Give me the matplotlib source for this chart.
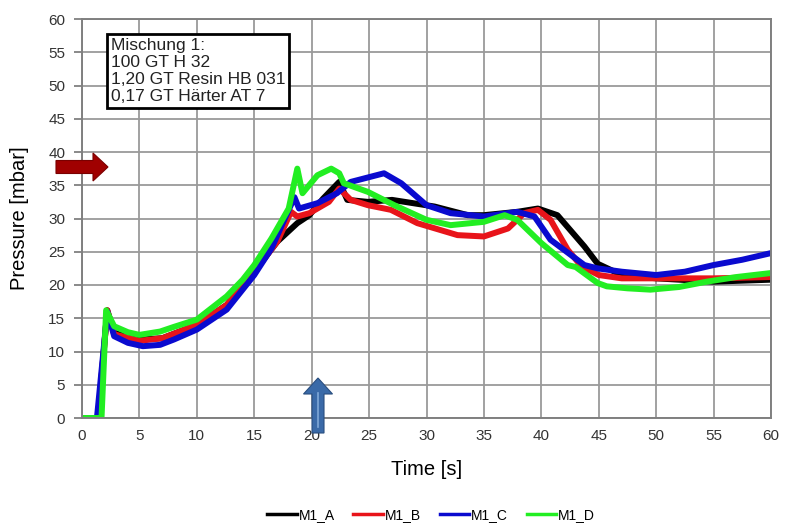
import matplotlib
matplotlib.use("Agg")
import matplotlib.pyplot as plt
from matplotlib.patches import FancyArrow

plt.rcParams['font.family'] = ['Liberation Sans', 'DejaVu Sans']

# data (time [s], pressure [mbar])
t_a = [0, 1.4, 2.2, 2.8, 5, 7, 10, 12.6, 15, 17, 18.75, 19.8, 21, 22.4, 23.1, 24.9, 27,
       30.7, 33.6, 35, 37.9, 39.7, 41.4, 43.75, 44.9, 47, 50, 55, 60]
p_a = [0, 0, 16.2, 12.8, 11.8, 12, 14, 17, 22, 26.5, 29.3, 30.5, 33, 35.5, 32.8, 32.5, 32.8,
       31.8, 30.5, 30.5, 31, 31.5, 30.5, 25.8, 23.2, 21.5, 21, 20.5, 20.8]

t_b = [0, 1.4, 2.2, 2.8, 5, 7, 10, 12.6, 15, 17, 18.2, 18.75, 19.8, 21.5, 22.4, 23.4, 24.9,
       26.9, 29.2, 32.7, 35, 37.1, 38.5, 39.7, 40.8, 42.3, 43.5, 45, 47, 50, 55, 60]
p_b = [0, 0, 16.2, 12.6, 11.6, 12, 14, 17, 22, 26.5, 31, 30.3, 30.8, 32.5, 34.5, 32.8, 32,
       31.3, 29.3, 27.5, 27.3, 28.5, 30.8, 31.3, 29.8, 25.3, 22.8, 21.5, 21, 21, 21, 21.2]

t_c = [0, 1.3, 2.2, 2.8, 4, 5.3, 6.8, 8, 10, 12.6, 15, 16.5, 18.5, 18.9, 20.5, 22.2, 23.4,
       26.3, 27.8, 30, 32.1, 35, 37.9, 39.4, 40.8, 43.75, 44.9, 47, 50, 52.5, 55, 57.5, 60]
p_c = [0, 0, 16, 12.3, 11.3, 10.8, 11, 11.8, 13.3, 16.3, 21.5, 25.5, 33.2, 31.5, 32.3, 33.8, 35.5,
       36.8, 35.3, 32, 30.8, 30.3, 31, 30.3, 26.8, 23, 22.5, 22, 21.5, 22, 23, 23.8, 24.8]

t_d = [0, 1.7, 2.1, 2.8, 4, 5, 6.8, 8, 10, 12.6, 14, 15, 16.5, 18, 18.75, 19.2, 20.5, 21.7,
       22.4, 22.8, 24.9, 27.2, 30, 32.1, 35, 36.8, 37.9, 40, 42.3, 43, 44.9, 45.7, 47.5, 49.5,
       52, 54.4, 57, 60]
p_d = [0, 0, 16.2, 13.8, 12.9, 12.5, 13, 13.7, 14.8, 18.3, 20.8, 23, 27, 31.5, 37.5, 33.8, 36.5, 37.5,
       36.8, 35.3, 34, 32, 29.8, 29, 29.5, 30.5, 29.8, 26.3, 23, 22.7, 20.3, 19.8, 19.5, 19.3,
       19.7, 20.5, 21.2, 21.8]

series_names = ["M1_A", "M1_B", "M1_C", "M1_D"]
series_colors = ["#000000", "#E8141A", "#0A0ACF", "#22EE22"]

box_text = "Mischung 1:\n100 GT H 32\n1,20 GT Resin HB 031\n0,17 GT Härter AT 7"

fig = plt.figure(figsize=(7.88, 5.26), dpi=100)
ax = fig.add_axes([82 / 788, 1 - 418 / 526, 689 / 788, 399 / 526])

for t, p, name, col in zip([t_a, t_b, t_c, t_d], [p_a, p_b, p_c, p_d], series_names, series_colors):
    ax.plot(t, p, color=col, lw=4.3, label=name, solid_joinstyle="round")

ax.set_xlim(0, 60)
ax.set_ylim(0, 60)
ax.set_xticks(range(0, 61, 5))
ax.set_yticks(range(0, 61, 5))
ax.grid(True, color="#9a9a9a", lw=1.3)
ax.set_axisbelow(True)
ax.tick_params(axis="x", length=0, pad=8, labelsize=11, labelcolor="#333333")
ax.tick_params(axis="y", length=6, width=1.3, color="#808080", pad=6, labelsize=11, labelcolor="#333333")
for s in ax.spines.values():
    s.set_color("#808080")
    s.set_linewidth(1.4)

ax.set_xlabel("Time [s]", fontsize=14.5, labelpad=12)
ax.set_ylabel("Pressure [mbar]", fontsize=14.5, labelpad=14)

# recipe box
ax.text(2.5, 57.2, box_text, fontsize=12.5, va="top", ha="left", linespacing=1.17, color="#222222",
        bbox=dict(boxstyle="square,pad=0.22", fc="white", ec="black", lw=2))

# arrows in pixel-like inch coordinates
fig.add_artist(FancyArrow(0.56, (526 - 167) / 100, 0.52, 0, width=0.13, head_width=0.28,
                          head_length=0.15, length_includes_head=True, color="#A00000",
                          ec="#7A0000", lw=0.8, transform=fig.dpi_scale_trans))
fig.add_artist(FancyArrow(3.18, (526 - 433) / 100, 0, 0.55, width=0.12, head_width=0.29,
                          head_length=0.16, length_includes_head=True, color="#3A6AA8",
                          ec="#2A4F80", lw=0.8, transform=fig.dpi_scale_trans))
fig.add_artist(plt.Line2D([3.18, 3.18], [0.99, 1.33], color="#7FA8D8", lw=1.2,
                          transform=fig.dpi_scale_trans))

leg = fig.legend(loc="center", bbox_to_anchor=(431 / 788, 1 - 515 / 526), ncol=4, frameon=False,
                 fontsize=10, handlelength=2.1, handletextpad=0.15, columnspacing=1.35)
for line in leg.get_lines():
    line.set_linewidth(2.5)

fig.savefig("out.png", dpi=100)
plt.close()
